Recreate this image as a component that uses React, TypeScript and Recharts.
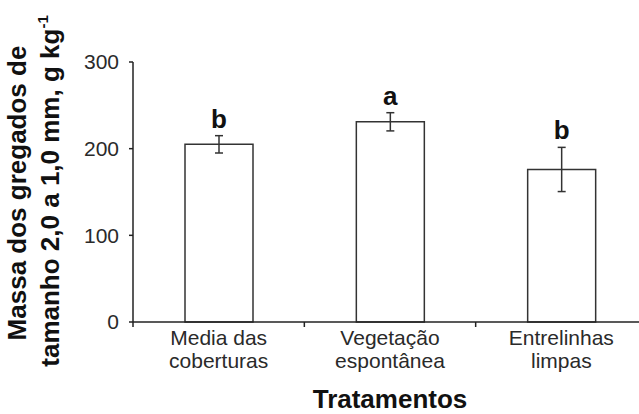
import React from 'react';
import { BarChart, Bar, XAxis, YAxis, ErrorBar, LabelList, Label } from 'recharts';

const categories = ['Media das\ncoberturas', 'Vegetação\nespontânea', 'Entrelinhas\nlimpas'];
const values = [205, 231, 176];
const errors = [10, 10.5, 25.5];
const letters = ['b', 'a', 'b'];
const yTicks = [0, 100, 200, 300];
const yTitleLine1 = 'Massa dos gregados de';
const yTitleLine2 = 'tamanho 2,0 a 1,0 mm, g kg';
const yTitleSup = '-1';
const xTitle = 'Tratamentos';

const data = categories.map((c, i) => ({ name: c, value: values[i], err: errors[i], letter: letters[i] }));

const FONT = '"Liberation Sans", Arial, sans-serif';

const CatTick = (props: any) => {
  const { x, y, payload, index } = props;
  const half = payload && payload.offset ? payload.offset : 85.67;
  const lines = String(payload.value).split('\n');
  return (
    <g>
      <line x1={x - half} x2={x - half} y1={y} y2={y + 5} stroke="#222" strokeWidth={1.5} />
      {index === categories.length - 1 && (
        <line x1={x + half} x2={x + half} y1={y} y2={y + 5} stroke="#222" strokeWidth={1.5} />
      )}
      <text x={x} y={y} textAnchor="middle" fontFamily={FONT} fontSize={21} fill="#2a2a2a">
        {lines.map((l, i) => (
          <tspan key={i} x={x} dy={23}>{l}</tspan>
        ))}
      </text>
    </g>
  );
};

const LetterLabel = (props: any) => {
  const { x, y, width, height, value, index } = props;
  const d = data[index];
  const pxPerUnit = height / d.value;
  const ty = y - d.err * pxPerUnit - 8;
  return (
    <text x={x + width / 2} y={ty} textAnchor="middle" fontFamily={FONT} fontWeight="bold" fontSize={26} fill="#111">
      {value}
    </text>
  );
};

const YTitle = (props: any) => {
  const vb = props.viewBox || { x: 0, y: 62, width: 133, height: 260 };
  const cy = vb.y + vb.height / 2 + 1;
  const x1 = vb.x + 26;
  const x2 = vb.x + 59;
  return (
    <g>
      <text x={x1} y={cy} transform={`rotate(-90, ${x1}, ${cy})`} textAnchor="middle" fontFamily={FONT} fontWeight="bold" fontSize={26} fill="#111">
        {yTitleLine1}
      </text>
      <text x={x2} y={cy - 2} transform={`rotate(-90, ${x2}, ${cy - 2})`} textAnchor="middle" fontFamily={FONT} fontWeight="bold" fontSize={26} fill="#111">
        {yTitleLine2}
        <tspan fontSize={15} dy={-11}>{yTitleSup}</tspan>
      </text>
    </g>
  );
};

const XTitle = (props: any) => {
  const vb = props.viewBox || { x: 133, y: 322, width: 514, height: 92 };
  return (
    <text x={vb.x + vb.width / 2} y={vb.y + 86} textAnchor="middle" fontFamily={FONT} fontWeight="bold" fontSize={26} fill="#111">
      {xTitle}
    </text>
  );
};

export default function App() {
  return (
    <div style={{ position: 'fixed', top: 0, left: 0, width: 639, height: 414, overflow: 'hidden', background: '#fff' }}>
      <BarChart
        width={660}
        height={414}
        data={data}
        margin={{ top: 62, right: 13, left: 0, bottom: 0 }}
        barSize={68}
      >
        <XAxis
          dataKey="name"
          height={92}
          interval={0}
          tickLine={false}
          tickSize={0}
          tickMargin={0}
          axisLine={{ stroke: '#222', strokeWidth: 1.5 }}
          tick={<CatTick />}
        >
          <Label content={<XTitle />} />
        </XAxis>
        <YAxis
          width={133}
          domain={[0, 300]}
          ticks={yTicks}
          interval={0}
          tickSize={4}
          tickMargin={10}
          axisLine={{ stroke: '#222', strokeWidth: 1.5 }}
          tickLine={{ stroke: '#222', strokeWidth: 1.5 }}
          tick={{ fontFamily: FONT, fontSize: 21, fill: '#2a2a2a' }}
        >
          <Label content={<YTitle />} />
        </YAxis>
        <Bar dataKey="value" fill="#fff" stroke="#333" strokeWidth={1.5} isAnimationActive={false}>
          <ErrorBar dataKey="err" direction="y" width={4} stroke="#333" strokeWidth={1.5} />
          <LabelList dataKey="letter" content={<LetterLabel />} />
        </Bar>
      </BarChart>
    </div>
  );
}
